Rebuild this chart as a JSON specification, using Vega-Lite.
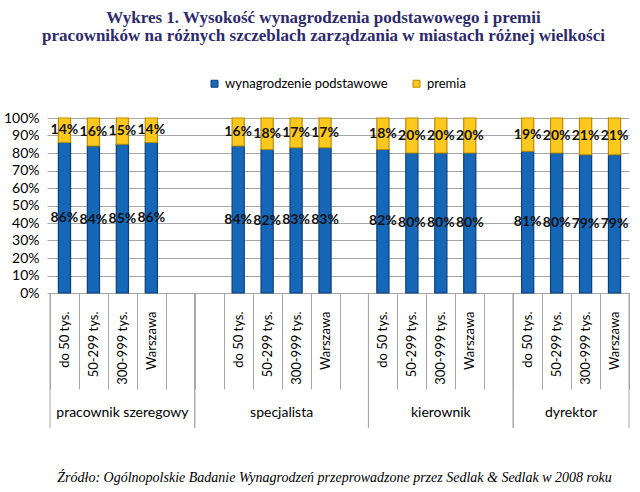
{
  "$schema": "https://vega.github.io/schema/vega-lite/v6.json",
  "width": 579,
  "height": 175,
  "autosize": {"type": "none"},
  "padding": {"left": 50, "top": 118, "right": 11, "bottom": 199},
  "background": "white",
  "title": {
    "text": ["Wykres 1. Wysokość wynagrodzenia podstawowego i premii", "pracowników na różnych szczeblach zarządzania w miastach różnej wielkości"],
    "font": "Liberation Serif",
    "fontSize": 17,
    "fontWeight": "bold",
    "color": "#2D2B6B",
    "anchor": "middle",
    "lineHeight": 18,
    "dx": -16,
    "dy": -28
  },
  "config": {"view": {"stroke": null}, "font": "Lato"},
  "resolve": {"scale": {"y": "independent"}},
  "datasets": {
    "udzialy": [
      {"grupa": "pracownik szeregowy", "slot": "do 50 tys.|A", "skladnik": "wynagrodzenie podstawowe", "udzial": 0.86},
      {"grupa": "pracownik szeregowy", "slot": "do 50 tys.|A", "skladnik": "premia", "udzial": 0.14},
      {"grupa": "pracownik szeregowy", "slot": "50-299 tys.|A", "skladnik": "wynagrodzenie podstawowe", "udzial": 0.84},
      {"grupa": "pracownik szeregowy", "slot": "50-299 tys.|A", "skladnik": "premia", "udzial": 0.16},
      {"grupa": "pracownik szeregowy", "slot": "300-999 tys.|A", "skladnik": "wynagrodzenie podstawowe", "udzial": 0.85},
      {"grupa": "pracownik szeregowy", "slot": "300-999 tys.|A", "skladnik": "premia", "udzial": 0.15},
      {"grupa": "pracownik szeregowy", "slot": "Warszawa|A", "skladnik": "wynagrodzenie podstawowe", "udzial": 0.86},
      {"grupa": "pracownik szeregowy", "slot": "Warszawa|A", "skladnik": "premia", "udzial": 0.14},
      {"grupa": "specjalista", "slot": "do 50 tys.|B", "skladnik": "wynagrodzenie podstawowe", "udzial": 0.84},
      {"grupa": "specjalista", "slot": "do 50 tys.|B", "skladnik": "premia", "udzial": 0.16},
      {"grupa": "specjalista", "slot": "50-299 tys.|B", "skladnik": "wynagrodzenie podstawowe", "udzial": 0.82},
      {"grupa": "specjalista", "slot": "50-299 tys.|B", "skladnik": "premia", "udzial": 0.18},
      {"grupa": "specjalista", "slot": "300-999 tys.|B", "skladnik": "wynagrodzenie podstawowe", "udzial": 0.83},
      {"grupa": "specjalista", "slot": "300-999 tys.|B", "skladnik": "premia", "udzial": 0.17},
      {"grupa": "specjalista", "slot": "Warszawa|B", "skladnik": "wynagrodzenie podstawowe", "udzial": 0.83},
      {"grupa": "specjalista", "slot": "Warszawa|B", "skladnik": "premia", "udzial": 0.17},
      {"grupa": "kierownik", "slot": "do 50 tys.|C", "skladnik": "wynagrodzenie podstawowe", "udzial": 0.82},
      {"grupa": "kierownik", "slot": "do 50 tys.|C", "skladnik": "premia", "udzial": 0.18},
      {"grupa": "kierownik", "slot": "50-299 tys.|C", "skladnik": "wynagrodzenie podstawowe", "udzial": 0.80},
      {"grupa": "kierownik", "slot": "50-299 tys.|C", "skladnik": "premia", "udzial": 0.20},
      {"grupa": "kierownik", "slot": "300-999 tys.|C", "skladnik": "wynagrodzenie podstawowe", "udzial": 0.80},
      {"grupa": "kierownik", "slot": "300-999 tys.|C", "skladnik": "premia", "udzial": 0.20},
      {"grupa": "kierownik", "slot": "Warszawa|C", "skladnik": "wynagrodzenie podstawowe", "udzial": 0.80},
      {"grupa": "kierownik", "slot": "Warszawa|C", "skladnik": "premia", "udzial": 0.20},
      {"grupa": "dyrektor", "slot": "do 50 tys.|D", "skladnik": "wynagrodzenie podstawowe", "udzial": 0.81},
      {"grupa": "dyrektor", "slot": "do 50 tys.|D", "skladnik": "premia", "udzial": 0.19},
      {"grupa": "dyrektor", "slot": "50-299 tys.|D", "skladnik": "wynagrodzenie podstawowe", "udzial": 0.80},
      {"grupa": "dyrektor", "slot": "50-299 tys.|D", "skladnik": "premia", "udzial": 0.20},
      {"grupa": "dyrektor", "slot": "300-999 tys.|D", "skladnik": "wynagrodzenie podstawowe", "udzial": 0.79},
      {"grupa": "dyrektor", "slot": "300-999 tys.|D", "skladnik": "premia", "udzial": 0.21},
      {"grupa": "dyrektor", "slot": "Warszawa|D", "skladnik": "wynagrodzenie podstawowe", "udzial": 0.79},
      {"grupa": "dyrektor", "slot": "Warszawa|D", "skladnik": "premia", "udzial": 0.21}
    ],
    "grupy": [
      {"grupa": "pracownik szeregowy", "start": "do 50 tys.|A", "end": "|A5", "srodek": "300-999 tys.|A", "parzysta": false},
      {"grupa": "specjalista", "start": "|B0", "end": "|B5", "srodek": "300-999 tys.|B", "parzysta": true},
      {"grupa": "kierownik", "start": "do 50 tys.|C", "end": "|C5", "srodek": "300-999 tys.|C", "parzysta": false},
      {"grupa": "dyrektor", "start": "do 50 tys.|D", "end": "Warszawa|D", "srodek": "300-999 tys.|D", "parzysta": true}
    ]
  },
  "layer": [
    {
      "data": {"name": "udzialy"},
      "mark": {"type": "bar", "width": {"band": 0.42}, "strokeWidth": 1.2},
      "encoding": {
        "x": {
          "field": "slot",
          "type": "nominal",
          "scale": {
            "domain": ["do 50 tys.|A", "50-299 tys.|A", "300-999 tys.|A", "Warszawa|A", "|A5", "|B0", "do 50 tys.|B", "50-299 tys.|B", "300-999 tys.|B", "Warszawa|B", "|B5", "do 50 tys.|C", "50-299 tys.|C", "300-999 tys.|C", "Warszawa|C", "|C5", "do 50 tys.|D", "50-299 tys.|D", "300-999 tys.|D", "Warszawa|D"],
            "paddingInner": 0,
            "paddingOuter": 0
          },
          "axis": {
            "title": "Źródło: Ogólnopolskie Badanie Wynagrodzeń przeprowadzone przez Sedlak & Sedlak w 2008 roku",
            "labelExpr": "indexof(datum.value + '', '|') >= 0 ? split(datum.value, '|')[0] : ''",
            "labelAngle": -90,
            "labelAlign": "right",
            "labelBaseline": "middle",
            "labelPadding": -78,
            "labelOverlap": false,
            "labelFont": "Lato",
            "labelFontSize": 13,
            "labelColor": "#000000",
            "tickBand": "extent",
            "tickSize": 96,
            "tickColor": "#a6a6a6",
            "domainColor": "#a6a6a6",
            "grid": false,
            "titleFont": "Liberation Serif",
            "titleFontStyle": "italic",
            "titleFontWeight": "normal",
            "titleFontSize": 14,
            "titleColor": "#000000",
            "titleX": 284,
            "titleY": 188,
            "titleAlign": "center",
            "titleBaseline": "alphabetic"
          }
        },
        "y": {
          "field": "udzial",
          "type": "quantitative",
          "stack": "normalize",
          "scale": {"domain": [0, 1]},
          "axis": {
            "title": null,
            "format": ".0%",
            "values": [0, 0.1, 0.2, 0.3, 0.4, 0.5, 0.6, 0.7, 0.8, 0.9, 1],
            "grid": true,
            "gridColor": "#a6a6a6",
            "domain": false,
            "tickSize": 3,
            "tickColor": "#a6a6a6",
            "labelOverlap": false,
            "labelPadding": 8,
            "labelFont": "Lato",
            "labelFontSize": 14,
            "labelColor": "#000000"
          }
        },
        "order": {"field": "skladnik", "sort": "descending"},
        "color": {
          "field": "skladnik",
          "type": "nominal",
          "sort": ["wynagrodzenie podstawowe", "premia"],
          "scale": {"domain": ["wynagrodzenie podstawowe", "premia"], "range": ["#1767B8", "#FFC81E"]},
          "legend": {
            "orient": "none",
            "legendX": 158,
            "legendY": -41,
            "direction": "horizontal",
            "title": null,
            "symbolType": "square",
            "symbolSize": 49,
            "symbolStrokeWidth": 1,
            "labelFont": "Lato",
            "labelFontSize": 13,
            "labelColor": "#000000",
            "labelLimit": 0,
            "columnPadding": 22
          }
        },
        "stroke": {
          "field": "skladnik",
          "type": "nominal",
          "scale": {"domain": ["wynagrodzenie podstawowe", "premia"], "range": ["#0C3F78", "#B88E00"]},
          "legend": null
        }
      }
    },
    {
      "data": {"name": "udzialy"},
      "mark": {"type": "text", "font": "Lato", "fontSize": 14, "fontWeight": "bold", "color": "#111111", "baseline": "middle"},
      "encoding": {
        "x": {"field": "slot", "type": "nominal"},
        "y": {"field": "udzial", "type": "quantitative", "stack": "normalize", "bandPosition": 0.5, "scale": {"domain": [0, 1]}, "axis": null},
        "order": {"field": "skladnik", "sort": "descending"},
        "detail": {"field": "skladnik"},
        "text": {"field": "udzial", "type": "quantitative", "format": ".0%"}
      }
    },
    {
      "data": {"name": "grupy"},
      "mark": {"type": "rule", "color": "#a6a6a6", "strokeWidth": 1},
      "encoding": {
        "x": {"field": "start", "type": "nominal", "bandPosition": 0},
        "y": {"datum": 0, "type": "quantitative", "scale": {"domain": [0, 1]}, "axis": null},
        "y2": {"datum": -0.771}
      }
    },
    {
      "data": {"name": "grupy"},
      "mark": {"type": "rule", "color": "#a6a6a6", "strokeWidth": 1},
      "encoding": {
        "x": {"field": "end", "type": "nominal", "bandPosition": 1},
        "y": {"datum": 0, "type": "quantitative", "scale": {"domain": [0, 1]}, "axis": null},
        "y2": {"datum": -0.771}
      }
    },
    {
      "data": {"name": "grupy"},
      "transform": [{"filter": "!datum.parzysta"}],
      "mark": {"type": "text", "font": "Lato", "fontSize": 14, "color": "#000000", "baseline": "middle"},
      "encoding": {
        "x": {"field": "srodek", "type": "nominal", "bandPosition": 0.5},
        "y": {"datum": -0.686, "type": "quantitative", "scale": {"domain": [0, 1]}, "axis": null},
        "text": {"field": "grupa"}
      }
    },
    {
      "data": {"name": "grupy"},
      "transform": [{"filter": "datum.parzysta"}],
      "mark": {"type": "text", "font": "Lato", "fontSize": 14, "color": "#000000", "baseline": "middle"},
      "encoding": {
        "x": {"field": "srodek", "type": "nominal", "bandPosition": 0},
        "y": {"datum": -0.686, "type": "quantitative", "scale": {"domain": [0, 1]}, "axis": null},
        "text": {"field": "grupa"}
      }
    }
  ]
}
